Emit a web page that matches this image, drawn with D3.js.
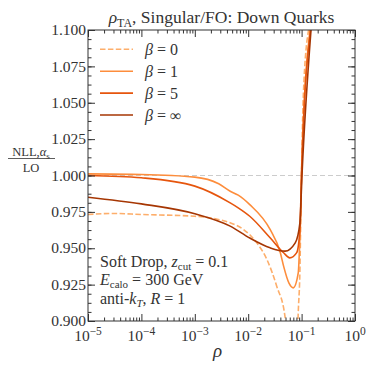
<!DOCTYPE html>
<html>
<head>
<meta charset="utf-8">
<script src="https://cdn.jsdelivr.net/npm/d3@7"></script>
<style>
  body { margin: 0; background: #fff; }
  text { font-family: "Liberation Serif", serif; fill: #333; }
</style>
</head>
<body>
<div id="chart"></div>
<script>
// curves: rho and NLL/LO ratio, null breaks the line
var rhoB0  = [1e-5, 3e-5, 1e-4, 1e-3, 0.0023, 0.0046, 0.0081, 0.0145, 0.0224, 0.0342, 0.0489, 0.053, null, 0.083, 0.0865, 0.093, 0.0975, 0.1075, 0.135];
var valB0  = [0.9732, 0.9739, 0.9732, 0.972, 0.9704, 0.9675, 0.963, 0.9537, 0.9423, 0.9239, 0.903, 0.885, null, 0.885, 0.9056, 0.935, 0.981, 1.054, 1.1];
var rhoB1  = [1e-5, 1e-4, 1e-3, 0.0028, 0.0046, 0.0065, 0.0107, 0.0257, 0.040, 0.046, 0.058, 0.070, 0.0865, 0.093, 0.0975, 0.0995, 0.1435];
var valB1  = [1.0011, 1.0007, 0.9989, 0.9943, 0.9892, 0.9865, 0.980, 0.9629, 0.9469, 0.9377, 0.926, 0.9228, 0.933, 0.958, 0.981, 1.0, 1.1];
var rhoB5  = [1e-5, 1e-4, 1e-3, 0.0046, 0.0065, 0.0107, 0.0257, 0.046, 0.060, 0.081, 0.093, 0.0995, 0.147];
var valB5  = [1.000, 0.9984, 0.9927, 0.9812, 0.9778, 0.972, 0.9572, 0.9469, 0.9434, 0.947, 0.963, 1.0, 1.1];
var rhoInf = [1e-5, 1e-4, 1e-3, 0.0046, 0.0107, 0.0257, 0.049, 0.076, 0.093, 0.1016, 0.15];
var valInf = [0.9851, 0.9805, 0.9737, 0.9652, 0.957, 0.9503, 0.948, 0.9537, 0.9675, 1.0, 1.1];

var betaNames = ["0", "1", "5", "\u221e"];
var yTicks = [0.900, 0.925, 0.950, 0.975, 1.000, 1.025, 1.050, 1.075, 1.100];
var xTicks = [1e-5, 1e-4, 1e-3, 1e-2, 1e-1, 1e0];
var xExps = ["\u22125", "\u22124", "\u22123", "\u22122", "\u22121", "0"];

var series = [
  {rho: rhoB0, val: valB0, color: "#fdae6b", dash: "5.5,2.4"},
  {rho: rhoB1, val: valB1, color: "#fd8d3c", dash: null},
  {rho: rhoB5, val: valB5, color: "#e6550d", dash: null},
  {rho: rhoInf, val: valInf, color: "#a63603", dash: null}
];

var W = 374, H = 374;
var margin = {top: 30, right: 19, bottom: 53, left: 88},
    width = W - margin.left - margin.right,
    height = H - margin.top - margin.bottom;

var svg = d3.select("#chart").append("svg")
    .attr("width", W).attr("height", H);

var g = svg.append("g")
    .attr("transform", "translate(" + margin.left + "," + margin.top + ")");

var x = d3.scaleLog().domain([1e-5, 1]).range([0, width]);
var y = d3.scaleLinear().domain([0.9, 1.1]).range([height, 0]);

svg.append("defs").append("clipPath").attr("id", "clip")
  .append("rect").attr("width", width).attr("height", height);

// reference line at 1
g.append("line")
    .attr("x1", 0).attr("x2", width)
    .attr("y1", y(1)).attr("y2", y(1))
    .attr("stroke", "#cccccc").attr("stroke-width", 1.2)
    .attr("stroke-dasharray", "5,3");

var line = d3.line()
    .defined(function(d) { return d[0] != null; })
    .x(function(d) { return x(d[0]); })
    .y(function(d) { return y(d[1]); })
    .curve(d3.curveMonotoneX);

var curves = g.append("g").attr("clip-path", "url(#clip)");
series.forEach(function(s) {
  var pts = s.rho.map(function(r, i) { return [r, s.val[i]]; });
  curves.append("path")
      .datum(pts)
      .attr("d", line)
      .attr("fill", "none")
      .attr("stroke", s.color)
      .attr("stroke-width", 1.6)
      .attr("stroke-dasharray", s.dash);
});

// minor tick values
var xMinor = [];
for (var e = -5; e < 0; e++) {
  for (var k = 2; k < 10; k++) xMinor.push(k * Math.pow(10, e));
}
var yMinor = d3.range(0, 33).map(function(i) { return 0.9 + i * 0.00625; });

function styleAxis(sel) {
  sel.select(".domain").remove();
  sel.selectAll("line").attr("stroke", "#333");
}

g.append("g").attr("transform", "translate(0," + height + ")")
  .call(d3.axisBottom(x).tickValues(xTicks).tickSize(-7).tickFormat(""))
  .call(styleAxis);
g.append("g").attr("transform", "translate(0," + height + ")")
  .call(d3.axisBottom(x).tickValues(xMinor).tickSize(-3.5).tickFormat(""))
  .call(styleAxis);
g.append("g")
  .call(d3.axisTop(x).tickValues(xTicks).tickSize(-7).tickFormat(""))
  .call(styleAxis);
g.append("g")
  .call(d3.axisTop(x).tickValues(xMinor).tickSize(-3.5).tickFormat(""))
  .call(styleAxis);

var yAxis = g.append("g")
  .call(d3.axisLeft(y).tickValues(yTicks).tickSize(-7).tickPadding(2).tickFormat(d3.format(".3f")))
  .call(styleAxis);
yAxis.selectAll("text").style("font-size", "15.5px").attr("fill", "#333").attr("dy", "0.3em");
g.append("g")
  .call(d3.axisLeft(y).tickValues(yMinor).tickSize(-3.5).tickFormat(""))
  .call(styleAxis);
g.append("g").attr("transform", "translate(" + width + ",0)")
  .call(d3.axisRight(y).tickValues(yTicks).tickSize(-7).tickFormat(""))
  .call(styleAxis);
g.append("g").attr("transform", "translate(" + width + ",0)")
  .call(d3.axisRight(y).tickValues(yMinor).tickSize(-3.5).tickFormat(""))
  .call(styleAxis);

// x tick labels with exponents
var xl = g.append("g").selectAll("text")
  .data(xTicks).enter().append("text")
    .attr("x", function(d) { return x(d); })
    .attr("y", height + 19.5)
    .attr("text-anchor", "middle")
    .style("font-size", "15.5px");
xl.append("tspan").text("10");
xl.append("tspan").attr("dy", "-6").style("font-size", "11.5px")
  .text(function(d, i) { return xExps[i]; });

// frame
g.append("rect")
    .attr("width", width).attr("height", height)
    .attr("fill", "none").attr("stroke", "#333").attr("stroke-width", 1);

// title
var title = svg.append("text")
    .attr("x", margin.left + width / 2).attr("y", 23)
    .attr("text-anchor", "middle").style("font-size", "17.5px");
title.append("tspan").style("font-style", "italic").text("\u03c1");
title.append("tspan").attr("dy", 4).style("font-size", "12px").text("TA");
title.append("tspan").attr("dy", -4).text(", Singular/FO: Down Quarks");

// x label
svg.append("text")
    .attr("x", margin.left + width / 2 - 4).attr("y", 357)
    .attr("text-anchor", "middle")
    .style("font-size", "19px").style("font-style", "italic")
    .text("\u03c1");

// y label as fraction
var num = svg.append("text")
    .attr("x", 31).attr("y", 156)
    .attr("text-anchor", "middle").style("font-size", "12.5px");
num.append("tspan").text("NLL,");
num.append("tspan").style("font-style", "italic").text("\u03b1");
num.append("tspan").attr("dy", 3).style("font-size", "9px").text("s");
svg.append("line")
    .attr("x1", 8).attr("x2", 55).attr("y1", 158.5).attr("y2", 158.5)
    .attr("stroke", "#333").attr("stroke-width", 0.8);
svg.append("text")
    .attr("x", 31).attr("y", 171.5)
    .attr("text-anchor", "middle").style("font-size", "12.5px")
    .text("LO");

// legend
var legend = g.append("g").selectAll("g")
  .data(series).enter().append("g")
    .attr("transform", function(d, i) { return "translate(12," + (19.3 + i * 21.9) + ")"; });
legend.append("line")
    .attr("x1", 0).attr("x2", 33)
    .attr("stroke", function(d) { return d.color; })
    .attr("stroke-width", 1.6)
    .attr("stroke-dasharray", function(d) { return d.dash; });
var lt = legend.append("text")
    .attr("x", 45).attr("y", 5.5)
    .style("font-size", "16px");
lt.append("tspan").style("font-style", "italic").text("\u03b2");
lt.append("tspan").text(function(d, i) { return " = " + betaNames[i]; });

// annotation
var ann = g.append("g").attr("transform", "translate(12,0)").style("font-size", "16px");
var a1 = ann.append("text").attr("y", 236.5);
a1.append("tspan").text("Soft Drop, ");
a1.append("tspan").style("font-style", "italic").text("z");
a1.append("tspan").attr("dy", 3).style("font-size", "11px").text("cut");
a1.append("tspan").attr("dy", -3).text(" = 0.1");
var a2 = ann.append("text").attr("y", 255);
a2.append("tspan").style("font-style", "italic").text("E");
a2.append("tspan").attr("dy", 3).style("font-size", "11px").text("calo");
a2.append("tspan").attr("dy", -3).text(" = 300 GeV");
var a3 = ann.append("text").attr("y", 273.5);
a3.append("tspan").text("anti-");
a3.append("tspan").style("font-style", "italic").text("k");
a3.append("tspan").attr("dy", 3).style("font-size", "11px").style("font-style", "italic").text("T");
a3.append("tspan").attr("dy", -3).text(", ");
a3.append("tspan").style("font-style", "italic").text("R");
a3.append("tspan").text(" = 1");
</script>
</body>
</html>
